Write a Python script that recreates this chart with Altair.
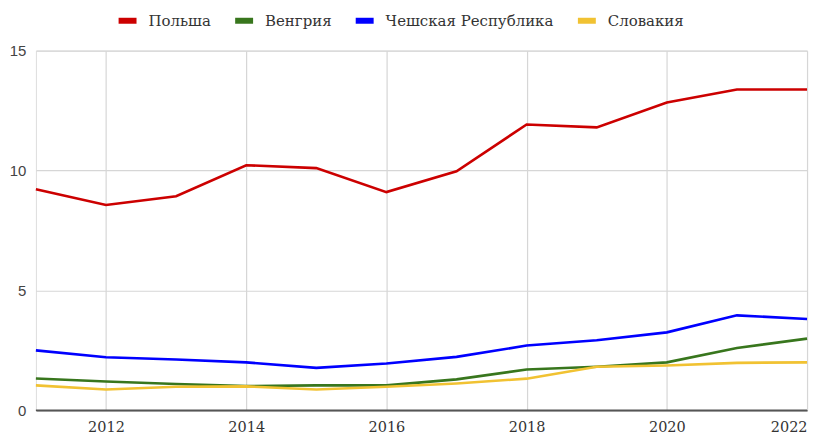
import altair as alt
import pandas as pd

years = list(range(2011, 2023))
poland = [9.22, 8.56, 8.93, 10.22, 10.1, 9.1, 9.97, 11.92, 11.8, 12.84, 13.38, 13.38]
hungary = [1.33, 1.2, 1.1, 1.01, 1.04, 1.04, 1.29, 1.70, 1.82, 2.0, 2.6, 2.99]
czech = [2.5, 2.21, 2.12, 2.0, 1.77, 1.95, 2.23, 2.7, 2.92, 3.25, 3.96, 3.81]
slovakia = [1.04, 0.87, 0.98, 1.0, 0.87, 0.98, 1.12, 1.32, 1.82, 1.87, 1.98, 2.0]

series_names = ["Польша", "Венгрия", "Чешская Республика", "Словакия"]
series_colors = ["#cc0000", "#38761d", "#0000ff", "#f1c232"]
x_ticks = [2012, 2014, 2016, 2018, 2020, 2022]
y_ticks = [0, 5, 10, 15]

rows = []
for name, vals in zip(series_names, [poland, hungary, czech, slovakia]):
    for y, v in zip(years, vals):
        rows.append({"year": y, "value": v, "series": name})
df = pd.DataFrame(rows)

base = alt.Chart(df)

lines = base.mark_line(strokeWidth=2.6).encode(
    x=alt.X("year:Q",
            scale=alt.Scale(domain=[2011, 2022], nice=False, zero=False),
            axis=alt.Axis(values=x_ticks, format="d", title=None, grid=True,
                          gridColor="#d6d6d6", gridWidth=1.2,
                          domainColor="#555555", domainWidth=1.5,
                          ticks=False, labelPadding=10,
                          labelFont="DejaVu Serif", labelFontSize=14.5,
                          labelColor="#333333")),
    y=alt.Y("value:Q",
            scale=alt.Scale(domain=[0, 15], nice=False),
            axis=alt.Axis(values=y_ticks, title=None, grid=True,
                          gridColor="#d6d6d6", gridWidth=1.2,
                          domain=False, ticks=False, labelPadding=10,
                          labelFont="Liberation Sans", labelFontSize=15,
                          labelColor="#444444")),
    color=alt.Color("series:N",
                    scale=alt.Scale(domain=series_names, range=series_colors),
                    sort=series_names,
                    legend=alt.Legend(title=None, orient="none", direction="horizontal",
                                      legendX=80, legendY=-42, padding=0,
                                      symbolType="stroke", symbolSize=324,
                                      symbolStrokeWidth=6, labelLimit=400,
                                      labelFont="DejaVu Serif", labelFontSize=15,
                                      labelColor="#333333", columnPadding=12,
                                      labelOffset=9)),
)

zero_rule = alt.Chart(pd.DataFrame({"y": [0]})).mark_rule(color="#555555", strokeWidth=1.5).encode(
    y=alt.Y("y:Q", scale=alt.Scale(domain=[0, 15], nice=False))
)

chart = alt.layer(lines, zero_rule).properties(
    width=774, height=361,
    autosize=alt.AutoSizeParams(type="none"),
    padding={"left": 28, "top": 42, "right": 10, "bottom": 30},
).configure_view(stroke=None).configure(background="white")

chart.save("out.html", embed_options={"renderer": "svg", "actions": False})
